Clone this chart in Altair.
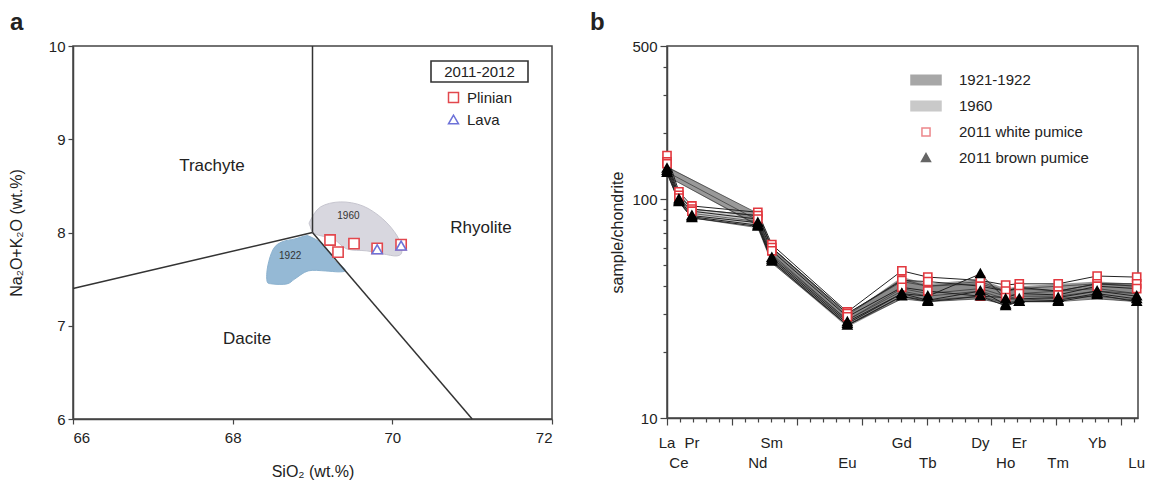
import altair as alt
import pandas as pd

FONT = "Liberation Sans"

# ---------------- Panel a : TAS diagram ----------------
tas_seg = ["v", "v", "l", "l", "r", "r"]
tas_i = [0, 1, 0, 1, 0, 1]
tas_x = [69, 69, 69, 66, 69, 71]
tas_y = [10, 8, 8, 7.4, 8, 6]

field_names = ["Trachyte", "Rhyolite", "Dacite"]
field_x = [67.74, 71.11, 68.18]
field_y = [8.71, 8.05, 6.86]

f1960_x = [68.97, 69.10, 69.35, 69.63, 69.88, 70.06, 70.12, 70.06, 69.88, 69.68, 69.43, 69.26, 69.03, 68.97]
f1960_y = [8.124, 8.274, 8.328, 8.285, 8.146, 7.964, 7.803, 7.749, 7.771, 7.803, 7.824, 7.931, 7.985, 8.07]
f1922_x = [68.945, 69.07, 69.18, 69.28, 69.38, 69.41, 69.32, 69.16, 68.945, 68.78, 68.68, 68.49, 68.43, 68.44, 68.51, 68.62, 68.78, 68.91]
f1922_y = [7.964, 7.91, 7.824, 7.696, 7.631, 7.588, 7.578, 7.588, 7.588, 7.503, 7.449, 7.449, 7.481, 7.642, 7.824, 7.90, 7.931, 7.964]

blob_names = ["1960", "1922"]
blob_lx = [69.45, 68.72]
blob_ly = [8.18, 7.75]

plinian_x = [69.22, 69.32, 69.52, 69.81, 70.11]
plinian_y = [7.92, 7.79, 7.88, 7.83, 7.87]
lava_x = [69.81, 70.11]
lava_y = [7.82, 7.86]

# ---------------- Panel b : REE pattern ----------------
elements = ["La", "Ce", "Pr", "Nd", "Sm", "Eu", "Gd", "Tb", "Dy", "Ho", "Er", "Tm", "Yb", "Lu"]
elem_pos = [0, 0.92, 1.92, 7.0, 8.08, 13.9, 18.1, 20.1, 24.15, 26.1, 27.15, 30.15, 33.15, 36.2]
label_row = [0, 1, 0, 1, 0, 1, 0, 1, 0, 1, 0, 1, 0, 1]

white_pumice = {
    "W1": [158, 108, 93, 87, 62, 30.5, 47, 44, 42.5, 40.5, 41, 41, 44.5, 44],
    "W2": [148, 104, 90, 84, 60, 30, 42.5, 42, 40, 38, 39.5, 38, 41, 41],
    "W3": [145, 101, 88, 81, 58, 29, 39.5, 38, 36, 35.5, 37, 36.5, 40, 39],
}
brown_pumice = {
    "B1": [138, 100, 84, 78, 54, 27.5, 37, 36, 45.5, 35, 35, 35.5, 38, 36],
    "B2": [135, 98, 83, 76, 53, 27, 37, 34.5, 38, 33, 34, 34.5, 37, 35],
    "B3": [132, 97, 82, 75, 52, 26.5, 36, 34, 36, 32.5, 34, 34, 36.5, 34],
}
# 1921-1922 samples (no Ce, Pr, Tm analyses)
old_1922 = {
    "O1": [140, None, None, 86, 60, 29.5, 43, 40, 42, 38, 39, None, 41, 40],
    "O2": [133, None, None, 80, 56, 28, 39, 37, 39, 36, 37, None, 39, 37],
    "O3": [127, None, None, 76, 52, 26.5, 36, 34.5, 36, 33.5, 34.5, None, 36, 34.5],
}
old_1960 = {
    "P1": [150, 106, 90, 84, 60, 30, 42, 40, 41, 38, 39, 38, 41, 40],
    "P2": [140, 101, 86, 79, 55, 28, 38, 36, 38, 35, 36, 36, 38, 37],
    "P3": [131, 97, 82, 74, 51, 26.5, 35, 34, 35, 33, 34, 34, 35, 34],
}
band1922_lo = [127, None, None, 75, 51, 26, 35, 34, 35, 33, 34, None, 35, 34]
band1922_hi = [141, None, None, 86, 60, 29.5, 44, 41, 43, 39, 40, None, 42, 41]
band1960_lo = [130, 97, 82, 74, 51, 26.5, 35, 34, 35, 33, 34, 34, 35, 34]
band1960_hi = [150, 106, 90, 84, 60, 30, 43, 40, 41, 38, 39, 38, 41, 40]

series_names = ["1921-1922", "1960", "2011 white pumice", "2011 brown pumice"]

# ---------------- build tables ----------------
seg_df = pd.DataFrame({"seg": tas_seg, "i": tas_i, "x": tas_x, "y": tas_y})
field_df = pd.DataFrame({"name": field_names, "x": field_x, "y": field_y})
p1960 = pd.DataFrame({"i": range(len(f1960_x)), "x": f1960_x, "y": f1960_y})
p1922 = pd.DataFrame({"i": range(len(f1922_x)), "x": f1922_x, "y": f1922_y})
blob_lab = pd.DataFrame({"name": blob_names, "x": blob_lx, "y": blob_ly})
pts_df = pd.concat([
    pd.DataFrame({"type": "Plinian", "x": plinian_x, "y": plinian_y}),
    pd.DataFrame({"type": "Lava", "x": lava_x, "y": lava_y}),
], ignore_index=True)
box_df = pd.DataFrame({"t": ["2011-2012"]})

rows = []
for grp, d in [("old1922", old_1922), ("old1960", old_1960)]:
    for s, vals in d.items():
        for e, p, v in zip(elements, elem_pos, vals):
            if v is not None:
                rows.append({"sample": s, "grp": grp, "pos": p, "val": v})
old_df = pd.DataFrame(rows)

rows = []
for ser, d in [("2011 white pumice", white_pumice), ("2011 brown pumice", brown_pumice)]:
    for s, vals in d.items():
        for e, p, v in zip(elements, elem_pos, vals):
            rows.append({"sample": s, "series": ser, "pos": p, "val": v})
new_df = pd.DataFrame(rows)

rows = []
for ser, lo, hi in [("1960", band1960_lo, band1960_hi), ("1921-1922", band1922_lo, band1922_hi)]:
    for e, p, a, b in zip(elements, elem_pos, lo, hi):
        if a is not None:
            rows.append({"series": ser, "pos": p, "lo": a, "hi": b})
band_df = pd.DataFrame(rows)

elem_df = pd.DataFrame({"el": elements, "pos": elem_pos, "row": label_row})

# ---------------- panel a ----------------
W_A, H_A = 479, 373
xa = alt.X("x:Q", scale=alt.Scale(domain=[66, 72], nice=False, zero=False),
           axis=alt.Axis(values=[66, 68, 70, 72], title="SiO₂  (wt.%)", titlePadding=18, labelPadding=6))
ya = alt.Y("y:Q", scale=alt.Scale(domain=[6, 10], nice=False, zero=False),
           axis=alt.Axis(values=[6, 7, 8, 9, 10], title="Na₂O+K₂O (wt.%)",
                         titleX=-57, titleBaseline="middle"))

blob60 = alt.Chart(p1960).mark_line(interpolate="cardinal-closed", fill="#d8d7df",
                                    stroke="#c6c5cf", strokeWidth=1).encode(x=xa, y=ya, order="i:Q")
blob22 = alt.Chart(p1922).mark_line(interpolate="cardinal-closed", fill="#95b9d5",
                                    stroke="#8cb2cf", strokeWidth=1).encode(x=xa, y=ya, order="i:Q")
blob_text = alt.Chart(blob_lab).mark_text(font=FONT, fontSize=10, color="#333").encode(x=xa, y=ya, text="name:N")
segs = alt.Chart(seg_df).mark_line(color="#333", strokeWidth=1.5).encode(x=xa, y=ya, detail="seg:N", order="i:Q")
fields = alt.Chart(field_df).mark_text(font=FONT, fontSize=17, color="#222").encode(x=xa, y=ya, text="name:N")

leg_a = alt.Legend(title=None, orient="none", legendX=373, legendY=44, labelFont=FONT,
                   labelFontSize=15, labelColor="#222", symbolSize=100, symbolStrokeWidth=1.5,
                   rowPadding=6, labelOffset=6, padding=0)
pts = alt.Chart(pts_df).mark_point(filled=True, fill="white", size=105, strokeWidth=1.6, opacity=1).encode(
    x=xa, y=ya,
    shape=alt.Shape("type:N", scale=alt.Scale(domain=["Plinian", "Lava"], range=["square", "triangle-up"]), legend=leg_a),
    stroke=alt.Stroke("type:N", scale=alt.Scale(domain=["Plinian", "Lava"], range=["#e2474d", "#6d72d8"]), legend=leg_a),
)
box = alt.Chart(box_df).mark_rect(fill="white", stroke="#333", strokeWidth=1.6).encode(
    x=alt.value(358), x2=alt.value(455), y=alt.value(15), y2=alt.value(36))
box_t = alt.Chart(box_df).mark_text(font=FONT, fontSize=15, color="#222").encode(
    x=alt.value(406.5), y=alt.value(26), text="t:N")

panel_a = alt.layer(blob60, blob22, blob_text, segs, fields, pts, box, box_t).properties(
    width=W_A, height=H_A,
    title=alt.TitleParams("a", anchor="start", frame="group", dx=-63, fontSize=24,
                          fontWeight="bold", font=FONT, offset=4, color="#222"))

# ---------------- panel b ----------------
W_B, H_B = 471, 372
xb = alt.X("pos:Q", scale=alt.Scale(domain=[0, 36.3], nice=False, zero=False),
           axis=alt.Axis(values=list(range(0, 37)), labels=False, title=None,
                         tickSize={"condition": {"test": "datum.value % 5 === 0", "value": 7}, "value": 4}))
yaxis_b = alt.Axis(values=[10, 20, 30, 40, 50, 60, 70, 80, 90, 100, 200, 300, 400, 500],
                   labelExpr="(datum.value==10||datum.value==100||datum.value==500) ? datum.label : ''",
                   format="d", title="sample/chondrite", titleX=-50, titleBaseline="middle",
                   tickSize={"condition": {"test": "datum.value==10||datum.value==100||datum.value==500", "value": 7}, "value": 4})
yscale_b = alt.Scale(type="log", domain=[10, 500], nice=False)

rect_path = "M-1,-0.32H1V0.32H-1Z"
sq_path = "M-0.27,-0.27H0.27V0.27H-0.27Z"
tri_path = "M0,-0.3L0.3,0.24H-0.3Z"
fill_sc = alt.Scale(domain=series_names, range=["#6e6e6e", "#a6a6a6", "white", "black"])
stroke_sc = alt.Scale(domain=series_names, range=["#6e6e6e", "#a6a6a6", "#e2383f", "black"])
shape_sc = alt.Scale(domain=series_names, range=[rect_path, rect_path, sq_path, tri_path])
leg_b = alt.Legend(title=None, orient="none", legendX=243, legendY=18, labelFont=FONT,
                   labelFontSize=15, labelColor="#222", symbolSize=900, symbolStrokeWidth=1.5,
                   rowPadding=2, labelOffset=17, padding=0)

band60 = alt.Chart(band_df).transform_filter(alt.datum.series == "1960").mark_area(opacity=0.6).encode(
    x=xb, y=alt.Y("lo:Q", scale=yscale_b, axis=yaxis_b), y2="hi:Q",
    fill=alt.Fill("series:N", scale=fill_sc, legend=leg_b))
band22 = alt.Chart(band_df).transform_filter(alt.datum.series == "1921-1922").mark_area(opacity=0.7).encode(
    x=xb, y=alt.Y("lo:Q", scale=yscale_b, axis=yaxis_b), y2="hi:Q",
    fill=alt.Fill("series:N", scale=fill_sc, legend=leg_b))
old_lines = alt.Chart(old_df).mark_line(color="#222", strokeWidth=0.8, opacity=0.75).encode(
    x=xb, y=alt.Y("val:Q", scale=yscale_b, axis=yaxis_b), detail="sample:N")
new_lines = alt.Chart(new_df).mark_line(color="#222", strokeWidth=1).encode(
    x=xb, y=alt.Y("val:Q", scale=yscale_b, axis=yaxis_b), detail="sample:N")
new_pts = alt.Chart(new_df).mark_point(filled=True, size=900, strokeWidth=1.6, opacity=1).encode(
    x=xb, y=alt.Y("val:Q", scale=yscale_b, axis=yaxis_b),
    fill=alt.Fill("series:N", scale=fill_sc, legend=leg_b),
    stroke=alt.Stroke("series:N", scale=stroke_sc, legend=leg_b),
    shape=alt.Shape("series:N", scale=shape_sc, legend=leg_b))
lab_top = alt.Chart(elem_df).transform_filter(alt.datum.row == 0).mark_text(
    font=FONT, fontSize=15, color="#222", baseline="middle").encode(
    x=xb, y=alt.value(H_B + 25), text="el:N")
lab_bot = alt.Chart(elem_df).transform_filter(alt.datum.row == 1).mark_text(
    font=FONT, fontSize=15, color="#222", baseline="middle").encode(
    x=xb, y=alt.value(H_B + 45), text="el:N")

panel_b = alt.layer(band60, band22, old_lines, new_lines, new_pts, lab_top, lab_bot).properties(
    width=W_B, height=H_B,
    title=alt.TitleParams("b", anchor="start", frame="group", dx=-77, fontSize=24,
                          fontWeight="bold", font=FONT, offset=4, color="#222"))

chart = alt.hconcat(panel_a, panel_b, spacing=35).resolve_scale(
    shape="independent", stroke="independent", fill="independent"
).resolve_legend(shape="independent", stroke="independent", fill="independent").properties(
    padding={"left": 7, "top": 10, "right": 5, "bottom": 5}
).configure_view(stroke="#444", strokeWidth=1.5).configure_axis(
    domainColor="#444", domainWidth=1.5, tickColor="#444", tickWidth=1.2,
    labelFont=FONT, labelFontSize=15, labelColor="#222", labelPadding=3,
    titleFont=FONT, titleFontSize=16, titleFontWeight="normal", titleColor="#222", grid=False)

chart.save("out.html", embed_options={"renderer": "svg", "actions": False})
